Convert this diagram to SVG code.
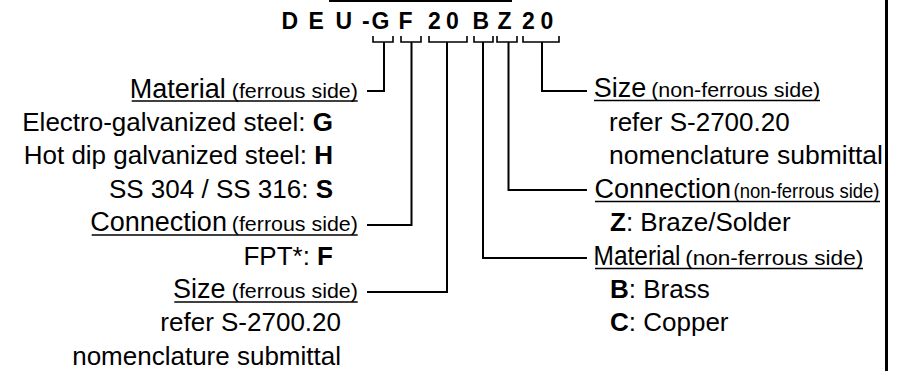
<svg xmlns="http://www.w3.org/2000/svg" width="901" height="371" viewBox="0 0 901 371">
<style>
text{font-family:"Liberation Sans",Arial,sans-serif;fill:#000}
.t{font-size:23px;font-weight:bold}
.hb{font-size:27px}
.hs{font-size:21px}
.bd{font-size:26px}
.b{font-weight:bold}
.ln{fill:none;stroke:#000;stroke-width:2}
.br{fill:none;stroke:#000;stroke-width:1.6}
.ul{stroke:#000;stroke-width:1.6}
</style>
<rect x="329" y="0" width="183" height="2" fill="#000"/>
<line x1="886.5" y1="0" x2="886.5" y2="371" stroke="#000" stroke-width="3"/>
<g id="code">
<text class="t" y="29" x="281.5 308.5 335.5 362 371.5 398.5 428 446 472.5 497.5 522 540.5">DEU-GF20BZ20</text>
</g>
<g id="connectors">
<path class="br" d="M373 36V42H393V36M401 36V42H421V36M429 36V42H467V36M474 36V42H493V36M497 36V42H517V36M523 36V42H559V36"/>
<path class="ln" d="M384 42V91H367"/>
<path class="ln" d="M411.5 42V225H367"/>
<path class="ln" d="M447 42V292H367"/>
<path class="ln" d="M483 42V258H587"/>
<path class="ln" d="M508.5 42V190H587"/>
<path class="ln" d="M542 42V91H587"/>
</g>
<g id="material-ferrous">
<text y="97.5"><tspan class="hb" x="129.7">Material</tspan> <tspan class="hs" x="231.8" textLength="126" lengthAdjust="spacingAndGlyphs">(ferrous side)</tspan></text>
<line class="ul" x1="131.7" y1="101" x2="357.7" y2="101"/>
<text class="bd" x="333" y="131" text-anchor="end">Electro-galvanized steel: <tspan class="b">G</tspan></text>
<text class="bd" x="333" y="164.3" text-anchor="end">Hot dip galvanized steel: <tspan class="b">H</tspan></text>
<text class="bd" x="333" y="197.7" text-anchor="end">SS 304 / SS 316: <tspan class="b">S</tspan></text>
</g>
<g id="connection-ferrous">
<text y="231.3"><tspan class="hb" x="90.3">Connection</tspan> <tspan class="hs" x="231.8" textLength="126" lengthAdjust="spacingAndGlyphs">(ferrous side)</tspan></text>
<line class="ul" x1="91.7" y1="235" x2="357.7" y2="235"/>
<text class="bd" x="333" y="264.5" text-anchor="end">FPT*: <tspan class="b">F</tspan></text>
</g>
<g id="size-ferrous">
<text y="298.2"><tspan class="hb" x="173">Size</tspan> <tspan class="hs" x="231.8" textLength="126" lengthAdjust="spacingAndGlyphs">(ferrous side)</tspan></text>
<line class="ul" x1="174.3" y1="302" x2="357.7" y2="302"/>
<text class="bd" x="341" y="331.3" text-anchor="end">refer S-2700.20</text>
<text class="bd" x="341" y="364.7" text-anchor="end">nomenclature submittal</text>
</g>
<g id="size-nonferrous">
<text y="97"><tspan class="hb" x="593.7">Size</tspan> <tspan class="hs" x="651.2" textLength="169" lengthAdjust="spacingAndGlyphs">(non-ferrous side)</tspan></text>
<line class="ul" x1="594" y1="100.5" x2="820" y2="100.5"/>
<text class="bd" x="609" y="130.9">refer S-2700.20</text>
<text class="bd" x="609" y="164.3" textLength="274" lengthAdjust="spacingAndGlyphs">nomenclature submittal</text>
</g>
<g id="connection-nonferrous">
<text y="197.7"><tspan class="hb" x="594.4">Connection</tspan> <tspan class="hs" x="733.5" textLength="146" lengthAdjust="spacingAndGlyphs">(non-ferrous side)</tspan></text>
<line class="ul" x1="595" y1="201.5" x2="880" y2="201.5"/>
<text class="bd" x="610" y="231.1"><tspan class="b">Z</tspan>: Braze/Solder</text>
</g>
<g id="material-nonferrous">
<text y="264.5"><tspan class="hb" x="593.5" textLength="87" lengthAdjust="spacingAndGlyphs">Material</tspan> <tspan class="hs" x="685.2" textLength="178" lengthAdjust="spacingAndGlyphs">(non-ferrous side)</tspan></text>
<line class="ul" x1="595" y1="268.5" x2="863" y2="268.5"/>
<text class="bd" x="610" y="297.9"><tspan class="b">B</tspan>: Brass</text>
<text class="bd" x="610" y="331.3"><tspan class="b">C</tspan>: Copper</text>
</g>
</svg>
